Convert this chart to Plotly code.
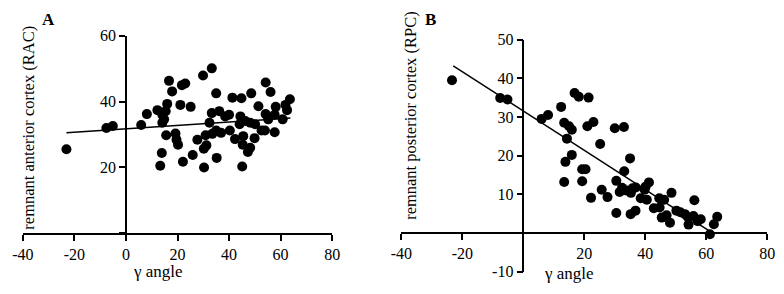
import plotly.graph_objects as go

# ---- Data: panel A (RAC vs gamma angle) ----
xA = [-23.1, -7.6, -5.1, 5.9, 8.1, 12.2, 14.1, 16.0, 15.4, 14.8, 14.1, 16.7, 17.9, 21.1, 21.7, 23.0,
      25.1, 15.6, 19.2, 19.6, 20.2, 13.9, 13.3, 22.1, 25.9, 27.7, 29.9, 33.3, 30.3, 30.2, 31.2, 30.9,
      32.4, 33.3, 35.0, 35.2, 35.0, 36.2, 36.9, 38.5, 40.0, 40.3, 41.3, 42.3, 44.8, 44.4, 44.1, 45.5,
      45.3, 45.1, 46.3, 47.3, 48.2, 48.6, 48.2, 49.9, 50.1, 51.4, 52.6, 53.9, 54.2, 54.2, 55.2, 56.1,
      57.7, 58.1, 57.7, 60.8, 61.9, 62.5, 63.6, 33.5]
yA = [25.5, 32.0, 32.6, 32.9, 36.2, 37.4, 36.0, 39.3, 37.1, 34.6, 33.6, 46.3, 43.1, 39.0, 45.0, 45.5,
      38.4, 29.8, 30.3, 28.4, 26.9, 24.4, 20.5, 21.7, 23.8, 28.4, 47.9, 50.1, 20.0, 25.7, 26.7, 29.8,
      33.6, 36.5, 42.5, 22.9, 31.2, 37.1, 30.5, 35.5, 36.0, 31.2, 41.2, 28.6, 41.0, 35.5, 33.1, 29.5,
      26.9, 20.3, 34.1, 24.7, 26.0, 42.5, 33.6, 28.9, 33.1, 38.6, 31.2, 31.2, 45.8, 36.2, 34.6, 42.9,
      30.7, 38.4, 36.0, 34.6, 39.0, 37.4, 40.7, 30.2]
fitA_x = [-23.1, 63.8]
fitA_y = [30.5, 35.0]

# ---- Data: panel B (RPC vs gamma angle) ----
xB = [-23.4, -7.6, -5.2, 6.0, 8.1, 12.4, 13.4, 15.0, 15.9, 14.3, 13.8, 13.4, 15.9, 16.8, 18.2, 21.4,
      21.0, 23.0, 19.3, 20.4, 19.3, 22.2, 25.2, 25.7, 27.6, 30.0, 33.0, 30.5, 30.5, 33.1, 35.0, 31.6,
      32.4, 33.7, 35.8, 36.9, 35.3, 35.2, 36.8, 38.5, 40.1, 41.2, 40.5, 42.8, 44.6, 46.2, 44.7, 45.4,
      47.0, 48.6, 48.1, 50.2, 51.5, 53.0, 54.0, 54.2, 56.1, 55.8, 57.2, 58.2, 61.2, 62.5, 63.6, 39.8]
yB = [39.5, 34.9, 34.5, 29.5, 30.5, 32.6, 28.5, 27.6, 26.7, 24.4, 18.4, 13.2, 20.2, 36.2, 35.2, 35.0,
      27.6, 28.7, 16.5, 16.5, 13.4, 9.1, 23.0, 11.2, 9.3, 27.1, 27.4, 13.5, 5.2, 16.0, 19.3, 10.6,
      11.7, 11.0, 11.6, 11.8, 10.4, 4.9, 5.8, 9.0, 12.0, 13.1, 8.6, 6.4, 9.0, 8.6, 6.6, 4.0,
      4.6, 10.4, 2.7, 5.8, 5.4, 4.9, 4.1, 2.2, 8.5, 4.4, 3.1, 3.6, -0.3, 2.3, 4.2, 11.2]
fitB_x = [-23.0, 61.5]
fitB_y = [43.2, 0.3]

x_ticks = [-40, -20, 0, 20, 40, 60, 80]
x_ticktext_A = ["-40", "-20", "0", "20", "40", "60", "80"]
x_ticktext_B = ["-40", "-20", "", "20", "40", "60", "80"]
yA_ticks = [0, 20, 40, 60]
yA_ticktext = ["", "20", "40", "60"]
yB_ticks = [-10, 0, 10, 20, 30, 40, 50]
yB_ticktext = ["-10", "", "10", "20", "30", "40", "50"]

# page body has an 8px default margin, so the figure is offset by 8px
OFF = 8
W, H = 784 - OFF, 294 - OFF
FONT = "Liberation Serif, Times New Roman, serif"

def px(x):
    return (x - OFF) / W

def py(y):
    return 1 - (y - OFF) / H

marker = dict(color="black", size=10, line=dict(width=0))
fig = go.Figure()
fig.add_trace(go.Scatter(x=xA, y=yA, mode="markers", marker=marker, xaxis="x", yaxis="y",
                         showlegend=False, cliponaxis=False))
fig.add_trace(go.Scatter(x=fitA_x, y=fitA_y, mode="lines", line=dict(color="black", width=1.5),
                         xaxis="x", yaxis="y", showlegend=False))
fig.add_trace(go.Scatter(x=xB, y=yB, mode="markers", marker=marker, xaxis="x2", yaxis="y2",
                         showlegend=False, cliponaxis=False))
fig.add_trace(go.Scatter(x=fitB_x, y=fitB_y, mode="lines", line=dict(color="black", width=1.5),
                         xaxis="x2", yaxis="y2", showlegend=False))

axis_common = dict(showline=True, linecolor="black", linewidth=1.5, ticks="outside", ticklen=6,
                   tickwidth=1.5, tickcolor="black", showgrid=False, zeroline=False,
                   ticklabeloverflow="allow",
                   tickfont=dict(family=FONT, size=16, color="black"))

dA = [px(12), px(329)]
dAy = [py(239), py(29)]
dB = [px(400), px(775)]
dBy = [py(280), py(33)]

fig.update_layout(
    width=W, height=H,
    margin=dict(l=0, r=0, t=0, b=0),
    paper_bgcolor="white", plot_bgcolor="white",
    xaxis=dict(domain=dA, range=[-40, 80], anchor="y", tickvals=x_ticks, ticktext=x_ticktext_A,
               **axis_common),
    yaxis=dict(domain=dAy, range=[0, 60], anchor="free",
               position=dA[0] + (dA[1] - dA[0]) * (40 / 120),
               tickvals=yA_ticks, ticktext=yA_ticktext, **axis_common),
    xaxis2=dict(domain=dB, range=[-40, 80], anchor="free",
                position=dBy[0] + (dBy[1] - dBy[0]) * (10 / 60),
                tickvals=x_ticks, ticktext=x_ticktext_B, **axis_common),
    yaxis2=dict(domain=dBy, range=[-10, 50], anchor="free",
                position=dB[0] + (dB[1] - dB[0]) * (40 / 120),
                tickvals=yB_ticks, ticktext=yB_ticktext, **axis_common),
)

ann_font = dict(family=FONT, size=16.5, color="black")
annotations = [
    dict(text="<b>A</b>", x=px(38), y=py(12), font=dict(family=FONT, size=17, color="black")),
    dict(text="<b>B</b>", x=px(430), y=py(12), font=dict(family=FONT, size=17, color="black")),
    dict(text="remnant anterior cortex (RAC)", x=px(18), y=py(127), textangle=-90, font=ann_font),
    dict(text="remnant posterior cortex (RPC)", x=px(410), y=py(114), textangle=-90, font=ann_font),
    dict(text="γ angle", x=px(150), y=py(280), font=dict(family=FONT, size=17, color="black")),
    dict(text="γ angle", x=px(572), y=py(282), font=dict(family=FONT, size=17, color="black")),
]
for a in annotations:
    a.update(xref="paper", yref="paper", xanchor="center", yanchor="middle", showarrow=False)
fig.update_layout(annotations=annotations)

fig.write_html("out.html")
